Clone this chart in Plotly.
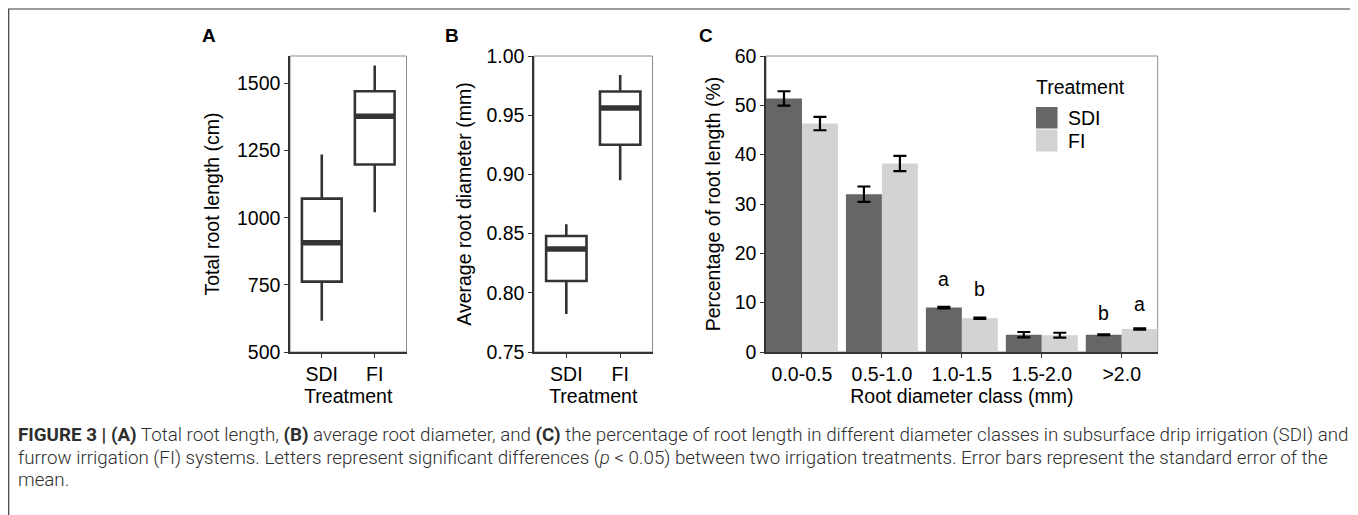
import plotly.graph_objects as go

# ---------------- data ----------------
treatments = ["SDI", "FI"]

# Panel A: total root length (cm) box statistics
a_lower = [616, 1020]
a_q1 = [762, 1198]
a_median = [907, 1378]
a_q3 = [1071, 1471]
a_upper = [1235, 1567]

# Panel B: average root diameter (mm) box statistics
b_lower = [0.782, 0.895]
b_q1 = [0.810, 0.925]
b_median = [0.837, 0.956]
b_q3 = [0.848, 0.970]
b_upper = [0.858, 0.984]

# Panel C: percentage of root length per diameter class
classes = ["0.0-0.5", "0.5-1.0", "1.0-1.5", "1.5-2.0", ">2.0"]
sdi_mean = [51.4, 32.0, 9.0, 3.5, 3.5]
sdi_se = [1.45, 1.55, 0.15, 0.55, 0.10]
fi_mean = [46.3, 38.2, 6.85, 3.4, 4.66]
fi_se = [1.35, 1.55, 0.12, 0.50, 0.12]
sdi_letters = ["", "", "a", "", "b"]
fi_letters = ["", "", "b", "", "a"]
sdi_letter_y = [None, None, 14.8, None, 7.9]
fi_letter_y = [None, None, 12.7, None, 9.8]

# ---------------- layout helpers ----------------
# the page body adds an 8px margin, so the figure is drawn 8px in from the window edge
OFF = 8
W, H = 1350, 507
FONT = "Liberation Sans, Arial, sans-serif"
CAP_FONT = "Roboto, Liberation Sans, sans-serif"
BOX_COL = "#333333"
SDI_COL = "#666666"
FI_COL = "#D3D3D3"
FS = 19.5


def px(x):
    return (x - OFF) / W


def py(y):
    return 1 - (y - OFF) / H


BOX_W = 0.75
BAR_W = 0.45

fig = go.Figure()

# ---------- Panel A ----------
xa = list(range(1, len(treatments) + 1))
fig.add_trace(go.Box(
    x=xa, q1=a_q1, median=a_median, q3=a_q3, lowerfence=a_lower, upperfence=a_upper,
    width=BOX_W, fillcolor="white", line=dict(color=BOX_COL, width=2.6),
    boxpoints=False, whiskerwidth=0, xaxis="x", yaxis="y", showlegend=False, hoverinfo="skip"))
for xi, m in zip(xa, a_median):
    fig.add_trace(go.Scatter(x=[xi - BOX_W / 2, xi + BOX_W / 2], y=[m, m], mode="lines",
                             line=dict(color=BOX_COL, width=5.5), xaxis="x", yaxis="y",
                             showlegend=False, hoverinfo="skip"))

# ---------- Panel B ----------
fig.add_trace(go.Box(
    x=xa, q1=b_q1, median=b_median, q3=b_q3, lowerfence=b_lower, upperfence=b_upper,
    width=BOX_W, fillcolor="white", line=dict(color=BOX_COL, width=2.6),
    boxpoints=False, whiskerwidth=0, xaxis="x2", yaxis="y2", showlegend=False, hoverinfo="skip"))
for xi, m in zip(xa, b_median):
    fig.add_trace(go.Scatter(x=[xi - BOX_W / 2, xi + BOX_W / 2], y=[m, m], mode="lines",
                             line=dict(color=BOX_COL, width=5.5), xaxis="x2", yaxis="y2",
                             showlegend=False, hoverinfo="skip"))

# ---------- Panel C ----------
xc = list(range(1, len(classes) + 1))
x_sdi = [i - BAR_W / 2 for i in xc]
x_fi = [i + BAR_W / 2 for i in xc]
fig.add_trace(go.Bar(x=x_sdi, y=sdi_mean, width=BAR_W, marker=dict(color=SDI_COL, line=dict(width=0)),
                     error_y=dict(type="data", array=sdi_se, color="black", thickness=2.2, width=6.5),
                     xaxis="x3", yaxis="y3", name="SDI", showlegend=False, hoverinfo="skip"))
fig.add_trace(go.Bar(x=x_fi, y=fi_mean, width=BAR_W, marker=dict(color=FI_COL, line=dict(width=0)),
                     error_y=dict(type="data", array=fi_se, color="black", thickness=2.2, width=6.5),
                     xaxis="x3", yaxis="y3", name="FI", showlegend=False, hoverinfo="skip"))

annotations = []
for xs, labs, ys in ((x_sdi, sdi_letters, sdi_letter_y), (x_fi, fi_letters, fi_letter_y)):
    for x, lab, y in zip(xs, labs, ys):
        if lab:
            annotations.append(dict(x=x, y=y, xref="x3", yref="y3", text=lab, showarrow=False,
                                    font=dict(family=FONT, size=FS, color="black"),
                                    xanchor="center", yanchor="middle"))

# ---------- axes ----------
ydom = [py(352), py(56)]
axis_common = dict(showgrid=False, zeroline=False, showline=True, linecolor=BOX_COL, linewidth=1.5,
                   ticks="outside", ticklen=4, tickwidth=1.3, tickcolor=BOX_COL, automargin=False,
                   tickfont=dict(family=FONT, size=FS, color="black"), mirror=False)
title_font = dict(family=FONT, size=FS, color="black")

fig.update_layout(
    width=W, height=H, margin=dict(l=0, r=0, t=0, b=0, pad=0, autoexpand=False),
    paper_bgcolor="white", plot_bgcolor="rgba(0,0,0,0)",
    xaxis=dict(domain=[px(290), px(406.5)], range=[0.4, 2.6], tickvals=xa, ticktext=treatments,
               title=dict(text="Treatment", font=title_font, standoff=2), anchor="y", **axis_common),
    yaxis=dict(domain=ydom, range=[500, 1602], tickvals=[500, 750, 1000, 1250, 1500],
               title=dict(text="Total root length (cm)", font=title_font, standoff=12), anchor="x", **axis_common),
    xaxis2=dict(domain=[px(534), px(652.5)], range=[0.4, 2.6], tickvals=xa, ticktext=treatments,
                title=dict(text="Treatment", font=title_font, standoff=2), anchor="y2", **axis_common),
    yaxis2=dict(domain=ydom, range=[0.75, 1.0], tickvals=[0.75, 0.80, 0.85, 0.90, 0.95, 1.00],
                tickformat=".2f",
                title=dict(text="Average root diameter (mm)", font=title_font, standoff=10), anchor="x2",
                **axis_common),
    xaxis3=dict(domain=[px(766), px(1157.7)], range=[0.55, 5.45], tickvals=xc, ticktext=classes,
                title=dict(text="Root diameter class (mm)", font=title_font, standoff=2), anchor="y3",
                **axis_common),
    yaxis3=dict(domain=ydom, range=[0, 60], tickvals=[0, 10, 20, 30, 40, 50, 60],
                title=dict(text="Percentage of root length (%)", font=title_font, standoff=9), anchor="x3",
                **axis_common),
    barmode="overlay",
)

# panel borders (grey) and outer frame
shapes = []
for xr, yr in (("x", "y"), ("x2", "y2"), ("x3", "y3")):
    shapes.append(dict(type="rect", xref=f"{xr} domain", yref=f"{yr} domain", x0=0, x1=1, y0=0, y1=1,
                       line=dict(color="#8c8c8c", width=1), layer="below"))
shapes.append(dict(type="rect", xref="paper", yref="paper", x0=px(8.7), x1=px(1354), y0=-0.2, y1=py(9),
                   line=dict(color="#3a3a3a", width=1.2), fillcolor="rgba(0,0,0,0)"))

# manual legend for panel C
shapes.append(dict(type="rect", xref="paper", yref="paper", x0=px(1036), x1=px(1057.5), y0=py(128.5), y1=py(107),
                   line=dict(width=0), fillcolor=SDI_COL))
shapes.append(dict(type="rect", xref="paper", yref="paper", x0=px(1036), x1=px(1057.5), y0=py(151.5), y1=py(129.5),
                   line=dict(width=0), fillcolor=FI_COL))
annotations += [
    dict(x=px(1034), y=py(87), xref="paper", yref="paper", text="Treatment", showarrow=False,
         xanchor="left", yanchor="middle", font=dict(family=FONT, size=FS, color="black")),
    dict(x=px(1066), y=py(118), xref="paper", yref="paper", text="SDI", showarrow=False,
         xanchor="left", yanchor="middle", font=dict(family=FONT, size=FS, color="black")),
    dict(x=px(1066), y=py(141), xref="paper", yref="paper", text="FI", showarrow=False,
         xanchor="left", yanchor="middle", font=dict(family=FONT, size=FS, color="black")),
]

# panel letters
for lab, xx in (("A", 209), ("B", 452), ("C", 706)):
    annotations.append(dict(x=px(xx), y=py(35), xref="paper", yref="paper", text=f"<b>{lab}</b>",
                            showarrow=False, xanchor="center", yanchor="middle",
                            font=dict(family=FONT, size=19, color="black")))

# caption
cap_font = dict(family=CAP_FONT, size=18.75, color="#2e2e2e", weight=300)
caption_lines = [
    "<b>FIGURE 3 | (A)</b> Total root length, <b>(B)</b> average root diameter, and <b>(C)</b> the percentage "
    "of root length in different diameter classes in subsurface drip irrigation (SDI) and",
    "furrow irrigation (FI) systems. Letters represent significant differences (<i>p</i> &lt; 0.05) between "
    "two irrigation treatments. Error bars represent the standard error of the",
    "mean.",
]
for line, yy in zip(caption_lines, (435, 458, 480)):
    annotations.append(dict(x=px(16), y=py(yy), xref="paper", yref="paper", text=line, showarrow=False,
                            xanchor="left", yanchor="middle", align="left", font=cap_font))

fig.update_layout(shapes=shapes, annotations=annotations)
fig.write_html("out.html")
